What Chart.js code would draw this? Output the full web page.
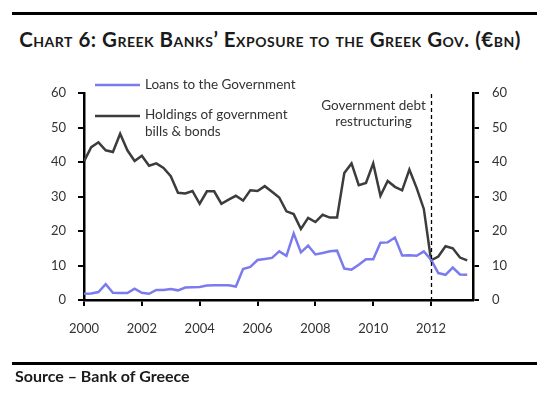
<!DOCTYPE html>
<html>
<head>
<meta charset="utf-8">
<script src="https://cdn.jsdelivr.net/npm/chart.js@4.4.0/dist/chart.umd.min.js"></script>
<style>
  html, body { margin: 0; padding: 0; background: #fff; }
  #page { position: relative; width: 540px; height: 394px; overflow: hidden; }
  #chart { position: absolute; left: 0; top: 0; }
  .rule { position: absolute; left: 12px; width: 525px; height: 2.5px; background: #000; }
  #title {
    position: absolute; left: 0; top: 27px; width: 540px; text-align: center;
    font-family: Lato, sans-serif; font-weight: bold; font-size: 20.5px; letter-spacing: 0.5px;
    font-variant: small-caps; color: #1a1a1a; white-space: nowrap;
  }
  #source {
    position: absolute; left: 15px; top: 366px;
    font-family: Lato, sans-serif; font-weight: bold; font-size: 16px; color: #1a1a1a;
  }
</style>
</head>
<body>
<div id="page">
  <div class="rule" style="top:12px"></div>
  <div id="title">Chart 6: Greek Banks’ Exposure to the Greek Gov. (€bn)</div>
  <canvas id="chart" width="540" height="394"></canvas>
  <div class="rule" style="top:362px"></div>
  <div id="source">Source – Bank of Greece</div>
</div>
<script>
// quarterly observations, 2000 Q1 - 2013 Q2
const quarters = [
  2000.00, 2000.25, 2000.50, 2000.75, 2001.00, 2001.25, 2001.50, 2001.75,
  2002.00, 2002.25, 2002.50, 2002.75, 2003.00, 2003.25, 2003.50, 2003.75,
  2004.00, 2004.25, 2004.50, 2004.75, 2005.00, 2005.25, 2005.50, 2005.75,
  2006.00, 2006.25, 2006.50, 2006.75, 2007.00, 2007.25, 2007.50, 2007.75,
  2008.00, 2008.25, 2008.50, 2008.75, 2009.00, 2009.25, 2009.50, 2009.75,
  2010.00, 2010.25, 2010.50, 2010.75, 2011.00, 2011.25, 2011.50, 2011.75,
  2012.00, 2012.25, 2012.50, 2012.75, 2013.00, 2013.25
];

const loansToGov = [
  1.8, 1.9, 2.3, 4.6, 2.1, 2.0, 2.0, 3.3,
  2.1, 1.8, 2.9, 2.9, 3.2, 2.8, 3.6, 3.7,
  3.8, 4.2, 4.3, 4.3, 4.3, 3.9, 9.0, 9.6,
  11.6, 11.9, 12.2, 14.1, 12.8, 19.3, 13.8, 15.8,
  13.2, 13.6, 14.1, 14.3, 9.1, 8.8, 10.2, 11.8,
  11.8, 16.6, 16.7, 18.1, 12.9, 13.0, 12.8, 14.1,
  11.7, 7.8, 7.3, 9.4, 7.4, 7.3
];

const billsAndBonds = [
  40.2, 44.3, 45.7, 43.4, 42.9, 48.2, 43.4, 40.3,
  41.8, 38.9, 39.6, 38.3, 35.9, 31.1, 30.9, 31.6,
  27.9, 31.5, 31.5, 27.9, 29.1, 30.2, 28.8, 31.8,
  31.6, 33.0, 31.4, 29.7, 25.7, 24.9, 20.6, 23.8,
  22.6, 24.7, 23.9, 23.9, 36.8, 39.6, 33.3, 33.9,
  39.6, 30.2, 34.5, 32.8, 31.8, 37.8, 32.5, 26.4,
  11.5, 12.6, 15.6, 15.0, 12.3, 11.5
];

const yearTicks = [2000, 2002, 2004, 2006, 2008, 2010, 2012];
const valueTicks = [0, 10, 20, 30, 40, 50, 60];
const restructuringDate = 2012;

const seriesNames = ['Loans to the Government', ['Holdings of government', 'bills & bonds']];
const noteLines = ['Government debt', 'restructuring'];

const BLUE = '#7b7bef';
const DARK = '#3c3c3c';
const TEXT = '#333333';
const FONT = 'Lato, sans-serif';

function toPoints(values) {
  return values.map((v, i) => ({ x: quarters[i], y: v }));
}

function yAxis(position, width, padding) {
  return {
    type: 'linear',
    position: position,
    min: 0,
    max: 60,
    afterBuildTicks: s => { s.ticks = valueTicks.map(v => ({ value: v })); },
    afterFit: s => { s.width = width; },
    grid: { display: true, drawOnChartArea: false, drawTicks: true, tickLength: 6, color: '#000', lineWidth: 2 },
    border: { display: true, color: '#000', width: 2.5 },
    ticks: { color: TEXT, font: { family: FONT, size: 13 }, padding: padding }
  };
}

// legend + restructuring annotation, drawn over the plot
const overlay = {
  id: 'overlay',
  afterDatasetsDraw(chart) {
    const ctx = chart.ctx;
    const area = chart.chartArea;
    const x = chart.scales.x;
    ctx.save();

    // dashed line at the restructuring date
    const xr = Math.round(x.getPixelForValue(restructuringDate)) + 0.5;
    ctx.strokeStyle = '#000';
    ctx.lineWidth = 1.3;
    ctx.setLineDash([4, 3]);
    ctx.beginPath();
    ctx.moveTo(xr, area.top + 1);
    ctx.lineTo(xr, area.bottom);
    ctx.stroke();
    ctx.setLineDash([]);

    ctx.font = '13.5px ' + FONT;
    ctx.fillStyle = TEXT;
    ctx.textBaseline = 'middle';
    ctx.textAlign = 'center';
    noteLines.forEach((t, i) => ctx.fillText(t, xr - 58, area.top + 13 + i * 16));

    // legend
    const lx = area.left + 11;
    ctx.textAlign = 'left';
    ctx.lineWidth = 2.5;
    ctx.strokeStyle = BLUE;
    ctx.beginPath(); ctx.moveTo(lx, area.top - 8); ctx.lineTo(lx + 45, area.top - 8); ctx.stroke();
    ctx.fillText(seriesNames[0], lx + 50, area.top - 8);
    ctx.strokeStyle = DARK;
    ctx.beginPath(); ctx.moveTo(lx, area.top + 23); ctx.lineTo(lx + 45, area.top + 23); ctx.stroke();
    seriesNames[1].forEach((t, i) => ctx.fillText(t, lx + 50, area.top + 22 + i * 16.5));

    ctx.restore();
  }
};

new Chart(document.getElementById('chart'), {
  type: 'line',
  data: {
    datasets: [
      { label: 'Loans to the Government', data: toPoints(loansToGov), yAxisID: 'y',
        borderColor: BLUE, borderWidth: 2.5, pointRadius: 0, tension: 0 },
      { label: 'Holdings of government bills & bonds', data: toPoints(billsAndBonds), yAxisID: 'y',
        borderColor: DARK, borderWidth: 2.5, pointRadius: 0, tension: 0 }
    ]
  },
  options: {
    responsive: false,
    animation: false,
    devicePixelRatio: 1,
    layout: { padding: { top: 93, left: 0, right: 0, bottom: 0 } },
    plugins: { legend: { display: false }, tooltip: { enabled: false } },
    scales: {
      x: {
        type: 'linear',
        min: 2000,
        max: 2013.45,
        afterBuildTicks: s => { s.ticks = yearTicks.map(v => ({ value: v })); },
        afterFit: s => { s.height = 94; },
        grid: { display: true, drawOnChartArea: false, drawTicks: true, tickLength: 6, color: '#000', lineWidth: 2 },
        border: { display: true, color: '#000', width: 2.5 },
        ticks: { color: TEXT, font: { family: FONT, size: 13 }, padding: 15, maxRotation: 0,
                 autoSkip: false, callback: v => String(v) }
      },
      y: yAxis('left', 84, 12),
      y2: yAxis('right', 67, 13)
    }
  },
  plugins: [overlay]
});
</script>
</body>
</html>
